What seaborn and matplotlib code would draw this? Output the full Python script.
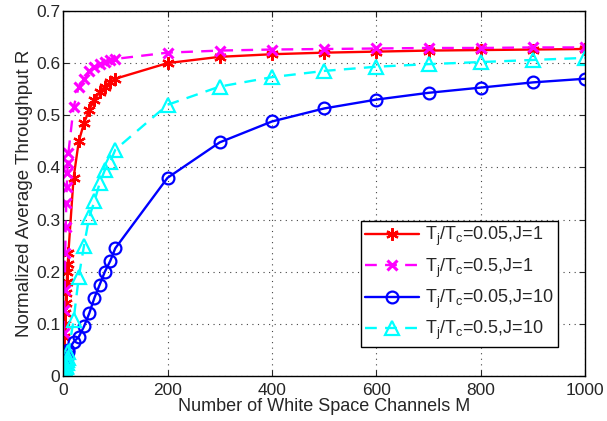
import numpy as np
import pandas as pd
import matplotlib
matplotlib.use("Agg")
import matplotlib.pyplot as plt
import seaborn as sns

# Number of white space channels
M = [1, 2, 3, 4, 5, 6, 7, 8, 9, 10,
     20, 30, 40, 50, 60, 70, 80, 90, 100,
     200, 300, 400, 500, 600, 700, 800, 900, 1000]

# Tj/Tc=0.05, J=1
r_005_j1 = [0.055, 0.075, 0.10, 0.12, 0.14, 0.16, 0.18, 0.20, 0.215, 0.235,
            0.38, 0.45, 0.485, 0.51, 0.53, 0.545, 0.555, 0.563, 0.57,
            0.60, 0.612, 0.617, 0.62, 0.622, 0.624, 0.625, 0.626, 0.627]
# Tj/Tc=0.5, J=1
r_05_j1 = [0.083, 0.127, 0.165, 0.236, 0.286, 0.332, 0.363, 0.39, 0.408, 0.427,
           0.515, 0.555, 0.57, 0.585, 0.593, 0.598, 0.603, 0.606, 0.608,
           0.62, 0.624, 0.626, 0.627, 0.628, 0.629, 0.629, 0.63, 0.63]
# Tj/Tc=0.05, J=10
r_005_j10 = [0.005, 0.01, 0.015, 0.02, 0.025, 0.03, 0.035, 0.04, 0.045, 0.05,
             0.065, 0.075, 0.095, 0.12, 0.15, 0.175, 0.20, 0.22, 0.245,
             0.38, 0.448, 0.488, 0.513, 0.53, 0.543, 0.553, 0.563, 0.57]
# Tj/Tc=0.5, J=10
r_05_j10 = [0.003, 0.006, 0.01, 0.013, 0.017, 0.02, 0.025, 0.03, 0.035, 0.045,
            0.107, 0.19, 0.25, 0.305, 0.335, 0.37, 0.395, 0.41, 0.434,
            0.52, 0.555, 0.573, 0.585, 0.593, 0.598, 0.602, 0.606, 0.61]

labels = ['T$_j$/T$_c$=0.05,J=1', 'T$_j$/T$_c$=0.5,J=1',
          'T$_j$/T$_c$=0.05,J=10', 'T$_j$/T$_c$=0.5,J=10']

sns.set_style("ticks")
plt.rcParams['font.family'] = ['Liberation Sans', 'DejaVu Sans']
plt.rcParams['mathtext.fontset'] = 'custom'
plt.rcParams['mathtext.rm'] = 'Liberation Sans'
plt.rcParams['mathtext.it'] = 'Liberation Sans'
plt.rcParams['xtick.direction'] = 'in'
plt.rcParams['ytick.direction'] = 'in'

fig = plt.figure(figsize=(6.07, 4.21), dpi=100)
ax = fig.add_axes([0.104, 0.107, 0.86, 0.867])

dash = (0, (5, 3.5))
styles = [
    dict(color='red', marker=(6, 2, 0), linestyle='-', markersize=9, markeredgewidth=1.6,
         markerfacecolor='red', markeredgecolor='red'),
    dict(color='magenta', marker='x', linestyle=dash, markersize=7, markeredgewidth=2.2,
         markeredgecolor='magenta'),
    dict(color='blue', marker='o', linestyle='-', markersize=8.5, markeredgewidth=1.6,
         markerfacecolor='none', markeredgecolor='blue'),
    dict(color='cyan', marker='^', linestyle=dash, markersize=10, markeredgewidth=1.6,
         markerfacecolor='none', markeredgecolor='cyan'),
]

for ys, lab, st in zip([r_005_j1, r_05_j1, r_005_j10, r_05_j10], labels, styles):
    sns.lineplot(x=M, y=ys, ax=ax, label=lab, linewidth=1.7, **st)

ax.set_xlim(0, 1000)
ax.set_ylim(0, 0.7)
ax.set_xticks([0, 200, 400, 600, 800, 1000])
ax.set_yticks([0, 0.1, 0.2, 0.3, 0.4, 0.5, 0.6, 0.7])
ax.set_yticklabels(['0', '0.1', '0.2', '0.3', '0.4', '0.5', '0.6', '0.7'])
ax.tick_params(labelsize=12.5, top=True, right=True, length=4)
ax.tick_params(axis='x', pad=5)
ax.tick_params(axis='y', pad=2)
ax.grid(True, linestyle=(0, (1, 4)), color='#444444', linewidth=0.8)
for s in ax.spines.values():
    s.set_linewidth(1.0)
    s.set_color('black')

ax.set_xlabel("Number of White Space Channels M", fontsize=13, labelpad=0)
ax.set_ylabel("Normalized Average Throughput R", fontsize=13.5, labelpad=2)

leg = ax.legend(loc='lower right', bbox_to_anchor=(0.948, 0.08), fontsize=13,
                handlelength=3.0, handletextpad=0.3, frameon=True, fancybox=False,
                edgecolor='black', framealpha=1, borderpad=0.25, labelspacing=0.45,
                borderaxespad=0.0)
leg.get_frame().set_linewidth(1.0)

fig.savefig("out.png", dpi=100)
